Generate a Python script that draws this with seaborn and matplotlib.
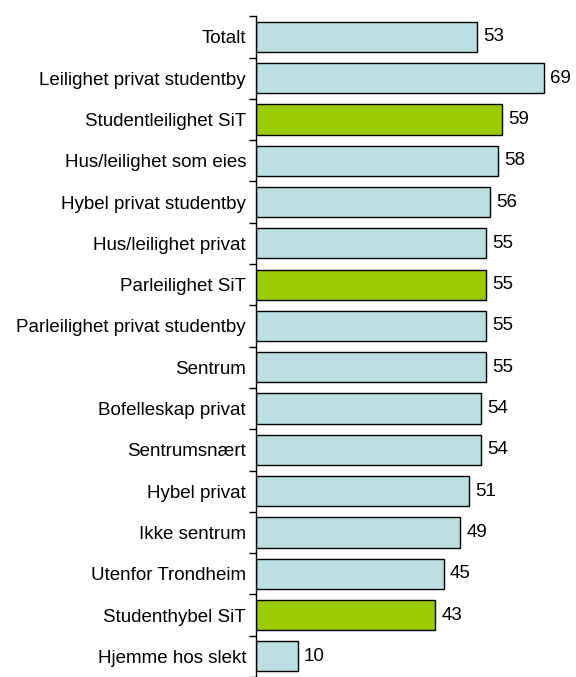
import numpy as np
import pandas as pd
import matplotlib.pyplot as plt
import seaborn as sns

# Data
categories = ['Totalt', 'Leilighet privat studentby', 'Studentleilighet SiT',
              'Hus/leilighet som eies', 'Hybel privat studentby', 'Hus/leilighet privat',
              'Parleilighet SiT', 'Parleilighet privat studentby', 'Sentrum',
              'Bofelleskap privat', 'Sentrumsnært', 'Hybel privat', 'Ikke sentrum',
              'Utenfor Trondheim', 'Studenthybel SiT', 'Hjemme hos slekt']
values = [53, 69, 59, 58, 56, 55, 55, 55, 55, 54, 54, 51, 49, 45, 43, 10]
sit_rows = ['Studentleilighet SiT', 'Parleilighet SiT', 'Studenthybel SiT']

blue = '#BBE0E3'
green = '#99CC00'
colors = [green if c in sit_rows else blue for c in categories]

df = pd.DataFrame({'kategori': categories, 'verdi': values})

sns.set_style('white')
plt.rcParams['font.family'] = ['Liberation Sans', 'DejaVu Sans']

fig = plt.figure(figsize=(5.76, 6.77), dpi=100)
ax = fig.add_axes([0.444, 0.0, 0.544, 0.976])

sns.barplot(data=df, x='verdi', y='kategori', hue='kategori', palette=colors,
            legend=False, width=0.73, edgecolor='black', linewidth=1.0,
            saturation=1, ax=ax)

for i, v in enumerate(values):
    ax.text(v + 1.5, i, str(v), va='center', ha='left', fontsize=13.5, color='black')

ax.set_xlim(0, 75)
ax.set_ylim(len(categories) - 0.5, -0.5)
ax.set_xlabel('')
ax.set_ylabel('')
ax.set_xticks([])

# tick marks between the categories, labels on the centres
ax.set_yticks(np.arange(len(categories)))
ax.set_yticklabels(categories, fontsize=13.5, color='black')
ax.set_yticks(np.arange(len(categories) + 1) - 0.5, minor=True)
ax.tick_params(axis='y', which='major', length=0, pad=7)
ax.tick_params(axis='y', which='minor', length=5, width=1, color='black', left=True)

for side in ['top', 'right', 'bottom']:
    ax.spines[side].set_visible(False)
ax.spines['left'].set_color('black')
ax.spines['left'].set_linewidth(1)

plt.savefig('out.png', dpi=100)
